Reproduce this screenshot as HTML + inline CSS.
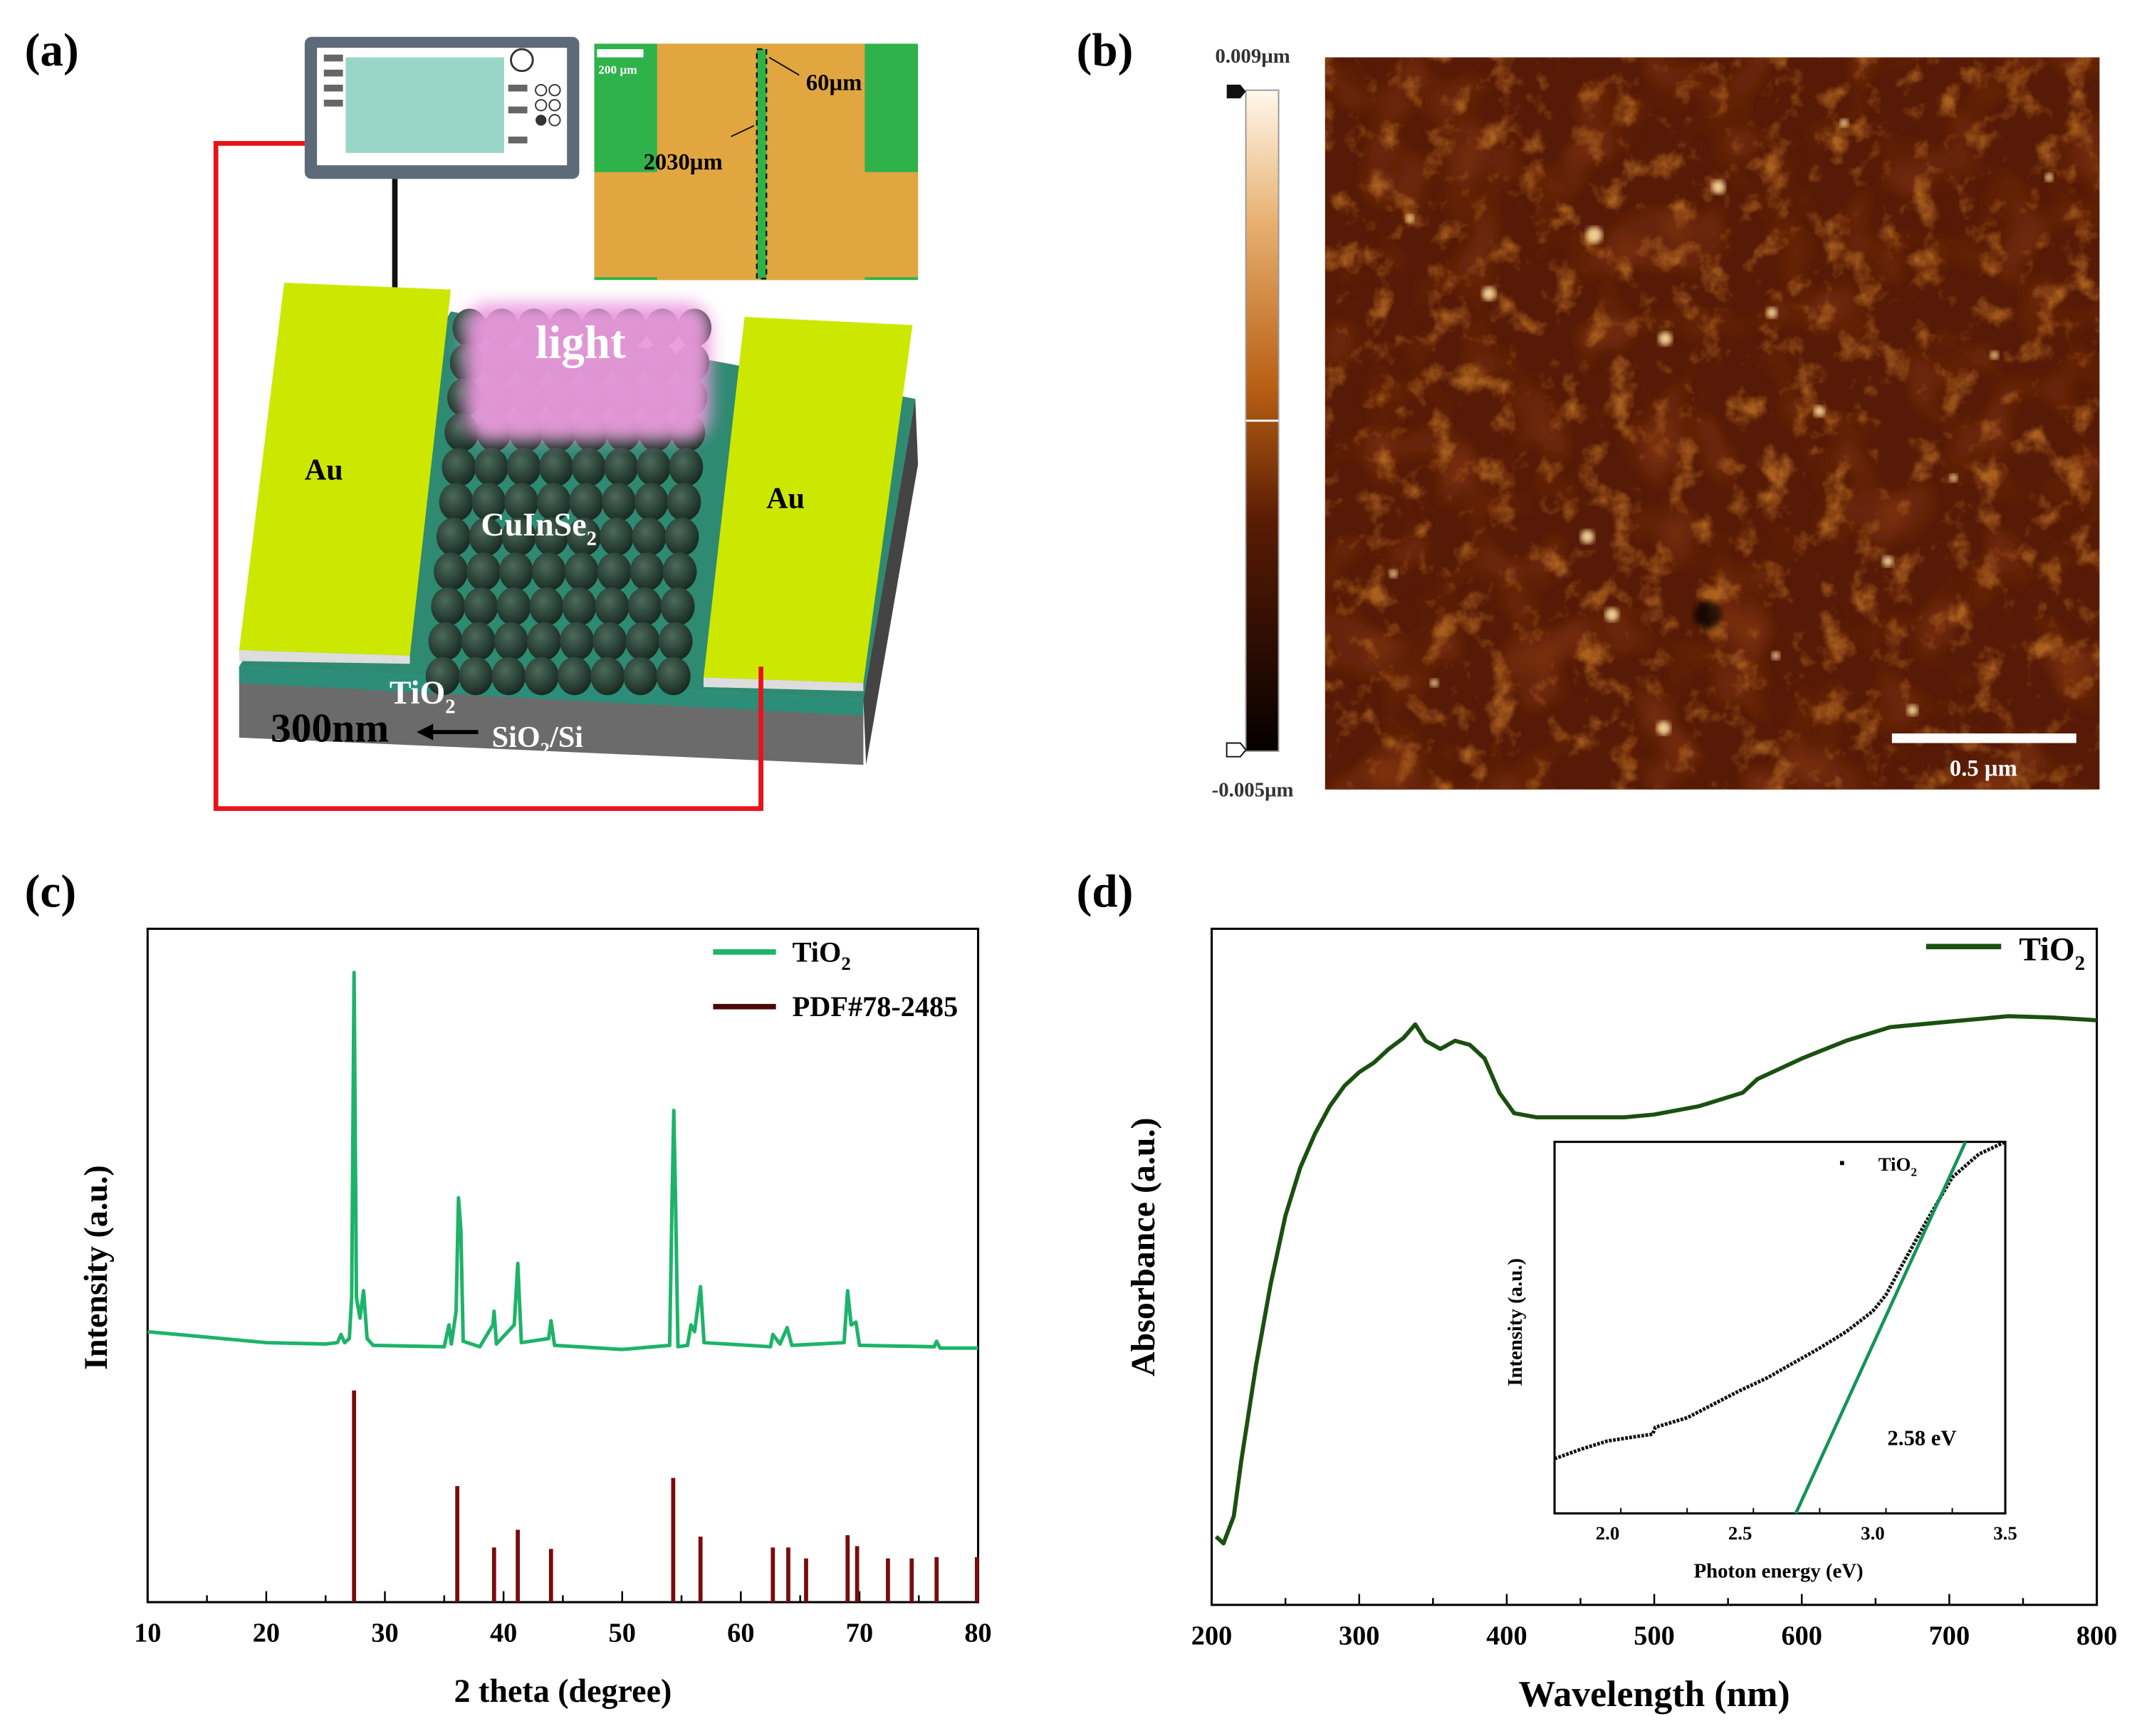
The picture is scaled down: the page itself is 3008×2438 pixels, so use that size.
<!DOCTYPE html>
<html><head><meta charset="utf-8"><style>
html,body{margin:0;padding:0;background:#fff;}
svg{display:block;}
text{font-family:"Liberation Serif",serif;font-weight:bold;}
</style></head><body>
<svg id="fig" width="3008" height="2438" viewBox="0 0 1568 1271" xmlns="http://www.w3.org/2000/svg">
<defs>
<filter id="afmTex" x="970" y="42" width="567" height="536" filterUnits="userSpaceOnUse">
<feTurbulence type="fractalNoise" baseFrequency="0.045" numOctaves="4" seed="4" result="noise"/>
<feColorMatrix in="noise" type="matrix" values="0 0 0 0 0  0 0 0 0 0  0 0 0 0 0  3.2 0 0 0 -1.7" result="mask"/>
<feFlood flood-color="#c67828" result="flood"/>
<feComposite in="flood" in2="mask" operator="in"/>
</filter>
<filter id="afmTex2" x="970" y="42" width="567" height="536" filterUnits="userSpaceOnUse">
<feTurbulence type="fractalNoise" baseFrequency="0.02" numOctaves="2" seed="9" result="noise"/>
<feColorMatrix in="noise" type="matrix" values="0 0 0 0 0  0 0 0 0 0  0 0 0 0 0  2.5 0 0 0 -1.2" result="mask"/>
<feFlood flood-color="#843610" result="flood"/>
<feComposite in="flood" in2="mask" operator="in"/>
</filter>
<filter id="blur6"><feGaussianBlur stdDeviation="6"/></filter>
<filter id="blur2"><feGaussianBlur stdDeviation="2"/></filter>
<linearGradient id="cbar" x1="0" y1="0" x2="0" y2="1">
<stop offset="0" stop-color="#fff8ec"/><stop offset="0.2" stop-color="#e8b070"/><stop offset="0.45" stop-color="#b85f14"/><stop offset="0.65" stop-color="#5a1c04"/><stop offset="1" stop-color="#050000"/>
</linearGradient>
<radialGradient id="sph" cx="0.4" cy="0.35" r="0.7"><stop offset="0" stop-color="#4c6a5c"/><stop offset="1" stop-color="#14261e"/></radialGradient>
<clipPath id="afmClip"><rect x="970" y="42" width="567" height="536"/></clipPath>
</defs>

<!-- Panel a -->
<g>
<text x="18" y="48" font-size="34">(a)</text>
<polyline points="223,105 158,105 158,592 557,592 557,488" fill="none" stroke="#e8131a" stroke-width="3.5"/>
<g>
<rect x="223" y="27" width="201" height="104" rx="5" fill="#5d6a78"/>
<rect x="232" y="35" width="183" height="86" fill="#fff"/>
<rect x="253" y="42" width="116" height="70" fill="#9ad6c8"/>
<rect x="237" y="40" width="14" height="5" fill="#666"/><rect x="237" y="51" width="14" height="5" fill="#666"/><rect x="237" y="62" width="14" height="5" fill="#666"/><rect x="237" y="73" width="14" height="5" fill="#666"/>
<circle cx="382" cy="44" r="8" fill="none" stroke="#333" stroke-width="1.5"/>
<circle cx="396" cy="66" r="4" fill="none" stroke="#333"/><circle cx="406" cy="66" r="4" fill="none" stroke="#333"/><circle cx="396" cy="77" r="4" fill="none" stroke="#333"/><circle cx="406" cy="77" r="4" fill="none" stroke="#333"/><circle cx="396" cy="88" r="4" fill="#333"/><circle cx="406" cy="88" r="4" fill="none" stroke="#333"/>
<rect x="372" y="62" width="14" height="5" fill="#666"/><rect x="372" y="78" width="14" height="5" fill="#666"/><rect x="372" y="100" width="14" height="5" fill="#666"/>
</g>
<line x1="289" y1="131" x2="289" y2="283" stroke="#111" stroke-width="4"/>
<g>
<rect x="435" y="32" width="237" height="173" fill="#2fb24a"/>
<rect x="481" y="32" width="152" height="173" fill="#e2a640"/>
<rect x="435" y="126" width="237" height="77" fill="#e2a640"/>
<rect x="437" y="36" width="34" height="6" fill="#fff"/>
<text x="438" y="54" font-size="9" fill="#fff" font-family="Liberation Sans">200 µm</text>
<rect x="554" y="36" width="7" height="168" fill="#2fb24a" stroke="#111" stroke-width="1.2" stroke-dasharray="4,3"/>
<line x1="563" y1="42" x2="585" y2="55" stroke="#111"/>
<line x1="535" y1="100" x2="552" y2="92" stroke="#111"/>
<text x="590" y="66" font-size="17">60µm</text>
<text x="471" y="124" font-size="17">2030µm</text>
</g>
<g>
<polygon points="175,488 632,512 632,560 175,540" fill="#6b6b6b"/>
<polygon points="175,488 632,512 632,524 175,500" fill="#2c8e78"/>
<polygon points="175,488 632,512 670,292 330,228" fill="#2f8a72"/>
<polygon points="632,512 670,292 672,340 634,560" fill="#444"/>
<g id="spheres"></g>
<rect x="340" y="222" width="180" height="100" rx="18" fill="#ea9adc" filter="url(#blur6)" opacity="0.95"/>
<text x="425" y="262" font-size="34" fill="#fff" text-anchor="middle">light</text>
<polygon points="208,207 330,212 300,480 175,476" fill="#cde800"/>
<polygon points="175,476 300,480 300,486 175,484" fill="#ddd"/>
<polygon points="545,232 668,238 632,500 515,496" fill="#cde800"/>
<polygon points="515,496 632,500 632,506 515,503" fill="#ddd"/>
<text x="237" y="351" font-size="22" text-anchor="middle">Au</text>
<text x="575" y="372" font-size="22" text-anchor="middle">Au</text>
<text x="352" y="392" font-size="24" fill="#fff">CuInSe<tspan font-size="15" dy="7">2</tspan></text>
<text x="285" y="515" font-size="24" fill="#fff">TiO<tspan font-size="15" dy="7">2</tspan></text>
<text x="198" y="543" font-size="30" fill="#000">300nm</text>
<line x1="350" y1="536" x2="312" y2="536" stroke="#000" stroke-width="3"/>
<polygon points="305,536 317,530 317,542" fill="#000"/>
<text x="360" y="547" font-size="22" fill="#fff">SiO<tspan font-size="14" dy="6">2</tspan><tspan dy="-6">/Si</tspan></text>
<line x1="557" y1="488" x2="557" y2="592" stroke="#e8131a" stroke-width="3.5"/>
</g>
</g>

<!-- Panel b -->
<g>
<text x="788" y="48" font-size="34">(b)</text>
<rect x="970" y="42" width="567" height="536" fill="#561a06"/>
<rect x="970" y="42" width="567" height="536" fill="#000" filter="url(#afmTex2)" opacity="0.85"/>
<rect x="970" y="42" width="567" height="536" fill="#000" filter="url(#afmTex)" opacity="0.75"/>
<g id="afmSpots" clip-path="url(#afmClip)"></g>
<rect x="1385" y="537" width="135" height="7" fill="#fff"/>
<text x="1452" y="568" font-size="17" fill="#fff" text-anchor="middle" font-family="Liberation Sans">0.5 µm</text>
<rect x="912" y="66" width="24" height="484" fill="url(#cbar)" stroke="#999"/>
<line x1="912" y1="308" x2="936" y2="308" stroke="#fff" stroke-width="1.5"/>
<polygon points="898,62 908,62 912,67 908,72 898,72" fill="#111"/>
<polygon points="898,544 908,544 912,549 908,554 898,554" fill="#fff" stroke="#111"/>
<text x="917" y="46" font-size="15" text-anchor="middle" font-family="Liberation Sans" font-weight="normal" fill="#333">0.009µm</text>
<text x="917" y="583" font-size="15" text-anchor="middle" font-family="Liberation Sans" font-weight="normal" fill="#333">-0.005µm</text>
</g>

<!-- Panel c -->
<g id="panelC">
<text x="18" y="664" font-size="34">(c)</text>
</g>
<!-- Panel d -->
<g id="panelD">
<text x="788" y="664" font-size="34">(d)</text>
</g>
</svg>
<script>
// ---- XRD data (panel c) ----
const xrdTheta = [10,15,20,25,26,26.3,26.6,27.0,27.2,27.4,27.6,27.9,28.2,28.5,29,35,35.4,35.6,36,36.2,36.4,36.6,38,39.1,39.2,39.4,40.9,41.2,41.5,43.8,44,44.3,50,54,54.2,54.35,54.5,54.7,55.5,55.8,56.1,56.6,56.9,62.5,62.7,63.3,63.9,64.3,68.7,69,69.3,69.7,70,76.3,76.5,76.8,80];
const xrdIntensity = [198,194,190,189,190,196,190,193,223,461,223,208,228,193,188,187,203,189,213,296,273,191,187,203,213,189,203,248,190,193,206,188,185,188,293,360,293,187,188,203,198,231,190,187,196,189,201,188,190,228,203,205,188,187,191,186,186];
const pdfTheta = [27.4,36.1,39.2,41.2,44.0,54.3,56.6,62.7,64.0,65.5,69.0,69.8,72.4,74.4,76.5,79.9];
const pdfIntensity = [155,85,40,53,39,91,48,40,40,32,49,41,32,32,33,33];
const xrdTicks = [10,20,30,40,50,60,70,80];
// ---- UV-vis data (panel d) ----
const uvWavelength = [203,208,215,220,230,240,250,260,270,280,290,300,310,320,330,338,345,355,365,375,385,395,405,420,450,480,500,530,560,565,570,600,630,660,700,740,770,800];
const uvAbsorbance = [50,45,65,105,175,235,285,320,345,365,380,390,397,407,415,425,413,407,413,410,400,375,360,357,357,357,359,365,375,380,385,400,413,423,427,431,430,428];
const uvTicks = [200,300,400,500,600,700,800];
// ---- Tauc inset data ----
const taucEnergy = [1.8,1.9,2.0,2.1,2.17,2.18,2.3,2.4,2.5,2.6,2.7,2.8,2.9,3.0,3.05,3.1,3.2,3.3,3.4,3.5];
const taucIntensity = [40,47,53,56,58,63,70,80,90,99,110,121,133,148,160,178,213,246,263,272];
const fitEnergy = [2.71,3.35];
const fitIntensity = [0,272];
const taucTicks = [2.0,2.5,3.0,3.5];

const NS='http://www.w3.org/2000/svg';
function mk(tag,attrs,parent){const e=document.createElementNS(NS,tag);for(const k in attrs)e.setAttribute(k,attrs[k]);parent.appendChild(e);return e;}

// spheres (decorative)
const sg=document.getElementById('spheres');
for(let r=0;r<11;r++){for(let c=0;c<8;c++){
  const t=r/10; const xl=332-t*(332-312), xr=520-t*(520-505);
  const cx=xl+(xr-xl)*(c+0.5)/8, cy=240+r*25.5;
  const e=mk('ellipse',{cx:cx,cy:cy,rx:12.5,ry:14,fill:'url(#sph)'},sg);
  
  
}}
// AFM bright spots (decorative)
const spots=[[1167,172,6],[1258,137,5],[1219,248,5],[1297,229,4],[1162,393,5],[1218,533,5],[1332,301,4],[1382,411,4],[1032,160,3],[1090,215,5],[1180,450,5],[1460,260,3],[1500,130,3],[1400,520,4],[1050,500,3],[1300,480,3],[1350,90,3],[1430,350,3],[1020,420,3]];
const as=document.getElementById('afmSpots');
spots.forEach(s=>{const e=mk('circle',{cx:s[0],cy:s[1],r:s[2],fill:'#ffe0a0',opacity:0.9,filter:'url(#blur2)'},as);
  
  });
mk('circle',{cx:1250,cy:450,r:10,fill:'#000',opacity:0.7,filter:'url(#blur2)'},as);

function axisFrame(g,x0,y0,x1,y1,name){const r=mk('rect',{x:x0,y:y0,width:x1-x0,height:y1-y0,fill:'none',stroke:'#000','stroke-width':1.6},g);
  
  }

// ---- Panel C ----
(function(){
 const g=document.getElementById('panelC');
 const X0=108,X1=716,Y0=680,Y1=1173;
 const sx=v=>X0+(v-10)/(80-10)*(X1-X0);
 const sy=v=>Y1-v/493*(Y1-Y0);
 axisFrame(g,X0,Y0,X1,Y1,'xrd-plot-frame');
 for(let v=10;v<=80;v+=5){const major=xrdTicks.includes(v);mk('line',{x1:sx(v),y1:Y1,x2:sx(v),y2:Y1-(major?8:5),stroke:'#000','stroke-width':1.3},g);}
 xrdTicks.forEach(v=>{const t=mk('text',{x:sx(v),y:Y1+29,'font-size':20,'text-anchor':'middle'},g);t.textContent=v;
  
  });
 const xl=mk('text',{x:(X0+X1)/2,y:1246,'font-size':24,'text-anchor':'middle'},g);xl.textContent='2 theta (degree)';
 
 
 const yl=mk('text',{x:0,y:0,'font-size':24,'text-anchor':'middle',transform:'translate(78,928) rotate(-90)'},g);yl.textContent='Intensity (a.u.)';
 
 
 const pts=xrdTheta.map((t,i)=>sx(t)+','+sy(xrdIntensity[i])).join(' ');
 const pl=mk('polyline',{points:pts,fill:'none',stroke:'#1db36a','stroke-width':2.6,'stroke-linejoin':'round'},g);
 
 
 pdfTheta.forEach((t,i)=>{const l=mk('line',{x1:sx(t),y1:Y1,x2:sx(t),y2:sy(pdfIntensity[i]),stroke:'#7a0c0c','stroke-width':3},g);
  
  });
 mk('line',{x1:522,y1:697,x2:568,y2:697,stroke:'#1db36a','stroke-width':4},g);
 const t1=mk('text',{x:580,y:704,'font-size':21},g);t1.innerHTML='TiO<tspan font-size="14" dy="6">2</tspan>';
 
 
 mk('line',{x1:522,y1:737,x2:568,y2:737,stroke:'#4a0808','stroke-width':4},g);
 const t2=mk('text',{x:580,y:744,'font-size':21},g);t2.textContent='PDF#78-2485';
 
 
})();

// ---- Panel D ----
(function(){
 const g=document.getElementById('panelD');
 const X0=887,X1=1535,Y0=680,Y1=1175;
 const sx=v=>X0+(v-200)/600*(X1-X0);
 const sy=v=>Y1-v/495*(Y1-Y0);
 axisFrame(g,X0,Y0,X1,Y1,'uv-plot-frame');
 for(let v=200;v<=800;v+=50){const major=uvTicks.includes(v);mk('line',{x1:sx(v),y1:Y1,x2:sx(v),y2:Y1-(major?8:5),stroke:'#000','stroke-width':1.3},g);}
 uvTicks.forEach(v=>{const t=mk('text',{x:sx(v),y:Y1+29,'font-size':20,'text-anchor':'middle'},g);t.textContent=v;
  
  });
 const xl=mk('text',{x:1211,y:1249,'font-size':27,'text-anchor':'middle'},g);xl.textContent='Wavelength (nm)';
 
 
 const yl=mk('text',{x:0,y:0,'font-size':25,'text-anchor':'middle',transform:'translate(845,913) rotate(-90)'},g);yl.textContent='Absorbance (a.u.)';
 
 
 const pl=mk('polyline',{points:uvWavelength.map((w,i)=>sx(w)+','+sy(uvAbsorbance[i])).join(' '),fill:'none',stroke:'#1a5010','stroke-width':3,'stroke-linejoin':'round'},g);
 
 
 mk('line',{x1:1410,y1:693,x2:1465,y2:693,stroke:'#1a5010','stroke-width':4},g);
 const lt=mk('text',{x:1478,y:703,'font-size':24},g);lt.innerHTML='TiO<tspan font-size="15" dy="7">2</tspan>';
 
 
 // inset
 const IX0=1138,IX1=1468,IY0=836,IY1=1108;
 const ix=v=>IX0+(v-1.8)/1.7*(IX1-IX0);
 const iy=v=>IY1-v/272*(IY1-IY0);
 mk('rect',{x:IX0,y:IY0,width:IX1-IX0,height:IY1-IY0,fill:'#fff'},g);
 axisFrame(g,IX0,IY0,IX1,IY1,'inset-frame');
 for(let v=1.8;v<=3.51;v+=0.25){mk('line',{x1:ix(v),y1:IY1,x2:ix(v),y2:IY1-4,stroke:'#000'},g);}
 taucTicks.forEach(v=>{const t=mk('text',{x:ix(v),y:IY1+19,'font-size':14,'text-anchor':'middle'},g);t.textContent=v.toFixed(1);
  
  });
 const ixl=mk('text',{x:1302,y:1155,'font-size':15,'text-anchor':'middle'},g);ixl.textContent='Photon energy (eV)';
 
 
 const iyl=mk('text',{x:0,y:0,'font-size':15,'text-anchor':'middle',transform:'translate(1114,968) rotate(-90)'},g);iyl.textContent='Intensity (a.u.)';
 
 
 const tp=mk('polyline',{points:taucEnergy.map((e,i)=>ix(e)+','+iy(taucIntensity[i])).join(' '),fill:'none',stroke:'#111','stroke-width':2.6,'stroke-dasharray':'2,1'},g);
 
 
 const fl=mk('line',{x1:ix(fitEnergy[0]),y1:iy(fitIntensity[0]),x2:ix(fitEnergy[1]),y2:iy(fitIntensity[1]),stroke:'#15935a','stroke-width':2.4},g);
 
 
 mk('rect',{x:1347,y:850,width:3,height:3,fill:'#000'},g);
 const il=mk('text',{x:1375,y:857,'font-size':14,'font-weight':'normal'},g);il.innerHTML='TiO<tspan font-size="9" dy="4">2</tspan>';
 
 
 const bg=mk('text',{x:1407,y:1058,'font-size':16,'text-anchor':'middle'},g);bg.textContent='2.58 eV';
 
 
})();
</script>
</body></html>
